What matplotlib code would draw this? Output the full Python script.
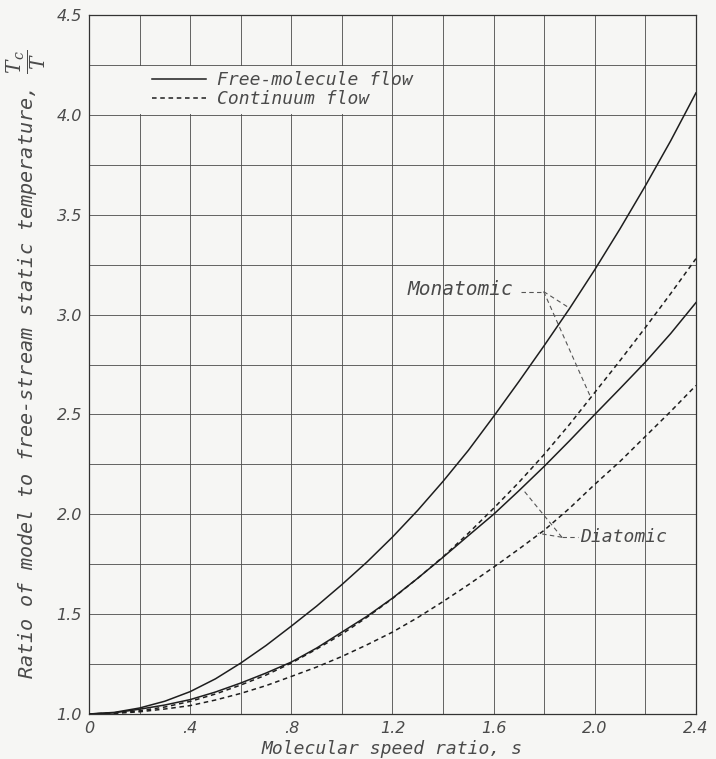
import matplotlib
matplotlib.use("Agg")
import matplotlib.pyplot as plt
from matplotlib.patches import Rectangle
from matplotlib.lines import Line2D
from matplotlib.ticker import MultipleLocator, FixedLocator, FixedFormatter

# ---- data ----
s = [0.0, 0.1, 0.2, 0.3, 0.4, 0.5, 0.6, 0.7, 0.8, 0.9, 1.0, 1.1, 1.2,
     1.3, 1.4, 1.5, 1.6, 1.7, 1.8, 1.9, 2.0, 2.1, 2.2, 2.3, 2.4]

free_mono = [1.000, 1.008, 1.030, 1.064, 1.112, 1.176, 1.255, 1.343, 1.440,
             1.540, 1.648, 1.762, 1.886, 2.020, 2.165, 2.320, 2.490, 2.665,
             2.845, 3.030, 3.225, 3.430, 3.645, 3.870, 4.110]
free_di = [1.000, 1.006, 1.024, 1.045, 1.072, 1.110, 1.155, 1.205, 1.260,
           1.330, 1.410, 1.490, 1.580, 1.680, 1.785, 1.893, 2.000, 2.118,
           2.240, 2.368, 2.500, 2.630, 2.762, 2.905, 3.060]
cont_mono = [1.000, 1.005, 1.016, 1.035, 1.063, 1.100, 1.145, 1.195, 1.255,
             1.325, 1.400, 1.485, 1.578, 1.680, 1.787, 1.905, 2.030, 2.160,
             2.300, 2.450, 2.610, 2.770, 2.935, 3.105, 3.280]
cont_di = [1.000, 1.003, 1.011, 1.025, 1.042, 1.070, 1.103, 1.142, 1.188,
           1.235, 1.288, 1.347, 1.410, 1.483, 1.563, 1.647, 1.735, 1.826,
           1.920, 2.030, 2.150, 2.265, 2.390, 2.515, 2.645]

x_ticks = [0.0, 0.4, 0.8, 1.2, 1.6, 2.0, 2.4]
x_tick_labels = ["0", ".4", ".8", "1.2", "1.6", "2.0", "2.4"]
y_ticks = [1.0, 1.5, 2.0, 2.5, 3.0, 3.5, 4.0, 4.5]
y_tick_labels = ["1.0", "1.5", "2.0", "2.5", "3.0", "3.5", "4.0", "4.5"]

legend_labels = ["Free-molecule flow", "Continuum flow"]

# annotation leaders (label position, corner, targets on curves)
mono_text = (1.26, 3.125)
mono_corner = (1.798, 3.115)
mono_targets = [(1.897, 3.035), (1.984, 2.585)]
di_text = (1.94, 1.885)
di_corner = (1.87, 1.885)
di_targets = [(1.715, 2.125), (1.775, 1.905)]

# ---- styling ----
bg = "#f6f6f4"
ink = "#1e1e1e"
txt = "#4a4a4a"
plt.rcParams["font.family"] = ["DejaVu Sans Mono", "DejaVu Sans"]
plt.rcParams["mathtext.fontset"] = "dejavuserif"

fig = plt.figure(figsize=(7.16, 7.59), dpi=100, facecolor=bg)
ax = fig.add_axes([0.1243, 0.0593, 0.8477, 0.9209], facecolor=bg)

dash = (0, (3.0, 2.4))
ax.plot(s, free_mono, color=ink, lw=1.1, zorder=3)
ax.plot(s, free_di, color=ink, lw=1.1, zorder=3)
ax.plot(s, cont_mono, color=ink, lw=1.1, ls=dash, zorder=3)
ax.plot(s, cont_di, color=ink, lw=1.1, ls=dash, zorder=3)

ax.set_xlim(0, 2.4)
ax.set_ylim(1.0, 4.5)

ax.xaxis.set_major_locator(FixedLocator(x_ticks))
ax.xaxis.set_major_formatter(FixedFormatter(x_tick_labels))
ax.yaxis.set_major_locator(FixedLocator(y_ticks))
ax.yaxis.set_major_formatter(FixedFormatter(y_tick_labels))
ax.xaxis.set_minor_locator(MultipleLocator(0.2))
ax.yaxis.set_minor_locator(MultipleLocator(0.25))
ax.set_axisbelow(True)
ax.grid(True, which="both", color="#4a4a4a", lw=0.6)
ax.tick_params(which="both", length=0, labelsize=11.5, labelcolor=txt, pad=5)
for lab in ax.get_xticklabels() + ax.get_yticklabels():
    lab.set_fontstyle("italic")
    lab.set_fontfamily(["DejaVu Sans"])
for sp in ax.spines.values():
    sp.set_color("#333333")
    sp.set_linewidth(0.9)

# blank area behind the legend (covers vertical grid lines only)
ax.add_patch(Rectangle((0.025, 4.004), 1.155, 0.242, facecolor=bg,
                       edgecolor="none", zorder=1))

handles = [Line2D([], [], color=ink, lw=1.1),
           Line2D([], [], color=ink, lw=1.1, ls=dash)]
leg = ax.legend(handles, legend_labels, loc="center left",
                bbox_to_anchor=(0.104, 0.8934), frameon=False,
                borderpad=0, borderaxespad=0, handlelength=3.0,
                handletextpad=0.6, labelspacing=0.05,
                prop={"family": ["DejaVu Sans Mono"], "size": 13,
                      "style": "italic"})
for t in leg.get_texts():
    t.set_color(txt)

# annotations
lead = dict(color="#555555", lw=0.8, ls=(0, (4, 3)), zorder=2)
ax.text(mono_text[0], mono_text[1], "Monatomic", fontsize=14, style="italic",
        color=txt, va="center", ha="left", zorder=4)
ax.plot([1.71, mono_corner[0]], [mono_corner[1], mono_corner[1]], **lead)
for tx, ty in mono_targets:
    ax.plot([mono_corner[0], tx], [mono_corner[1], ty], **lead)
ax.text(di_text[0], di_text[1], "Diatomic", fontsize=13, style="italic",
        color=txt, va="center", ha="left", zorder=4)
ax.plot([di_corner[0], 1.935], [di_corner[1], di_corner[1]], **lead)
for tx, ty in di_targets:
    ax.plot([di_corner[0], tx], [di_corner[1], ty], **lead)

ax.set_xlabel("Molecular speed ratio, s", fontsize=13, style="italic",
              color=txt, labelpad=3)
ax.set_ylabel(r"Ratio of model to free-stream static temperature, $\dfrac{T_c}{T}$",
              fontsize=14.5, style="italic", color=txt, labelpad=6)

fig.savefig("out.png", dpi=100, facecolor=bg)
